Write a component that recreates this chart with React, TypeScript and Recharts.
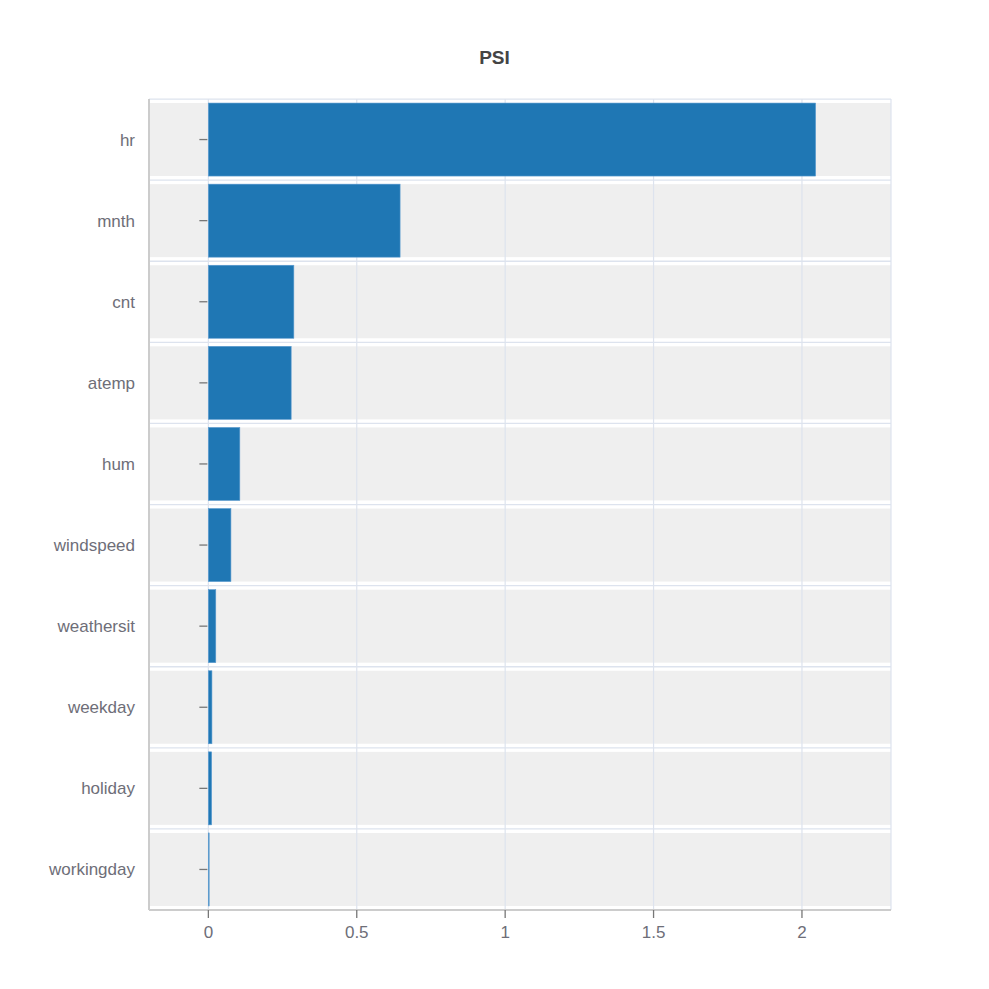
import React from "react";
import {
  BarChart,
  Bar,
  XAxis,
  YAxis,
  CartesianGrid,
} from "recharts";

const features = [
  "hr",
  "mnth",
  "cnt",
  "atemp",
  "hum",
  "windspeed",
  "weathersit",
  "weekday",
  "holiday",
  "workingday",
];
const psiValues = [2.046, 0.646, 0.288, 0.279, 0.106, 0.076, 0.025, 0.012, 0.011, 0.001];
const xTicks = [0, 0.5, 1, 1.5, 2];
const xDomain = [-0.2, 2.3];
const title = "PSI";

const data = features.map((f, i) => ({ feature: f, psi: psiValues[i] }));

const FONT = '"Liberation Sans", Arial, sans-serif';
const BAR_COLOR = "#1f77b4";
const BAND_COLOR = "#efefef";
const GRID_COLOR = "#dde3ee";
const TEXT_COLOR = "#6e6e78";
const BORDER = { stroke: "#cccccc", strokeWidth: 2 };

const BandBackground = (props: any) => {
  const { x, y, width, height } = props;
  return (
    <g>
      <rect x={x} y={y} width={width} height={height} fill={BAND_COLOR} />
      <line x1={x} x2={x + width} y1={y - 4} y2={y - 4} stroke={GRID_COLOR} strokeWidth={1.3} />
    </g>
  );
};

const BarShape = (props: any) => {
  const { x, y, width, height } = props;
  const cy = y + height / 2;
  return (
    <g>
      <rect
        x={x}
        y={y}
        width={Math.max(width, 0.8)}
        height={height}
        fill={BAR_COLOR}
        stroke="#5b9bd0"
        strokeWidth={0.6}
      />
      <line x1={x - 9} x2={x - 1} y1={cy} y2={cy} stroke="#777" strokeWidth={1.3} />
    </g>
  );
};

export default function App() {
  return (
    <div style={{ position: "absolute", left: 0, top: 0, width: 989, height: 989, background: "#fff" }}>
      <div
        style={{
          position: "absolute",
          left: 0,
          width: 989,
          top: 47,
          textAlign: "center",
          fontFamily: FONT,
          fontWeight: "bold",
          fontSize: 19,
          color: "#444",
          lineHeight: "22px",
        }}
      >
        {title}
      </div>
      <BarChart
        width={989}
        height={989}
        data={data}
        layout="vertical"
        margin={{ top: 99, right: 98, bottom: 79 - 40, left: 49 }}
        barCategoryGap="5%"
      >
        <CartesianGrid
          horizontal={false}
          vertical={true}
          stroke={GRID_COLOR}
          strokeWidth={1.2}
          zIndex={-40}
        />
        <XAxis
          type="number"
          domain={xDomain}
          ticks={xTicks}
          allowDataOverflow
          height={40}
          axisLine={BORDER}
          tickLine={{ stroke: "#777", strokeWidth: 1.3 }}
          tickSize={8}
          tickMargin={8}
          tick={{ fill: TEXT_COLOR, fontSize: 17, fontFamily: FONT }}
        />
        <XAxis
          xAxisId="top"
          orientation="top"
          type="number"
          domain={xDomain}
          ticks={xTicks}
          allowDataOverflow
          height={0}
          axisLine={BORDER}
          tick={false}
          tickLine={false}
        />
        <YAxis
          type="category"
          dataKey="feature"
          width={100}
          axisLine={BORDER}
          tickLine={false}
          tickSize={0}
          tickMargin={14}
          tick={{ fill: TEXT_COLOR, fontSize: 17, fontFamily: FONT }}
        />
        <YAxis
          yAxisId="right"
          orientation="right"
          type="category"
          dataKey="feature"
          width={0}
          axisLine={BORDER}
          tickLine={false}
          tick={false}
        />
        <Bar
          dataKey="psi"
          isAnimationActive={false}
          background={<BandBackground />}
          shape={<BarShape />}
        />
      </BarChart>
    </div>
  );
}
